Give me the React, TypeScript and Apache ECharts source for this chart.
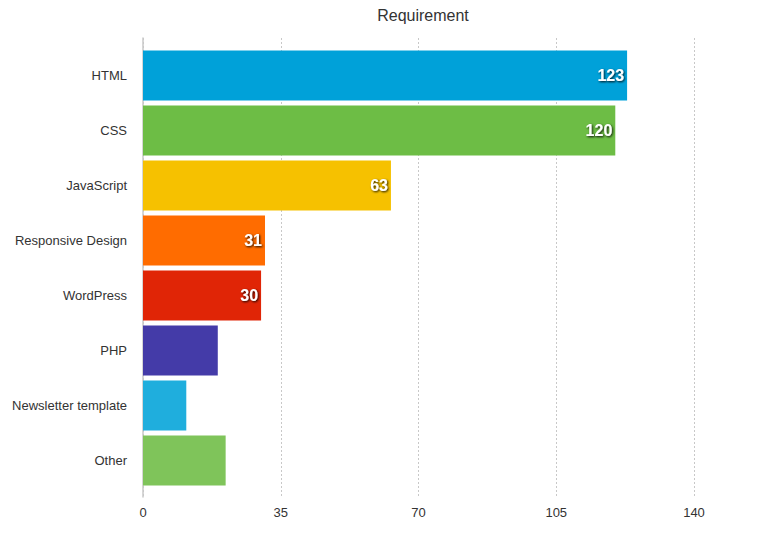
import React, { useEffect, useRef } from "react";
import * as echarts from "echarts";

const categories = [
  "HTML",
  "CSS",
  "JavaScript",
  "Responsive Design",
  "WordPress",
  "PHP",
  "Newsletter template",
  "Other",
];
const values = [123, 120, 63, 31, 30, 19, 11, 21];
const colors = [
  "#00a1d9",
  "#6dbd45",
  "#f6c100",
  "#ff6c00",
  "#e02506",
  "#443ba8",
  "#1faedd",
  "#7fc45a",
];
const showLabel = [true, true, true, true, true, false, false, false];
const xTicks = { min: 0, max: 140, interval: 35 };

const FONT = "'Liberation Sans', Arial, Helvetica, sans-serif";

export default function App() {
  const ref = useRef<HTMLDivElement>(null);
  useEffect(() => {
    if (!ref.current) return;
    const chart = echarts.init(ref.current, undefined, { renderer: "svg" });
    chart.setOption({
      animation: false,
      textStyle: { fontFamily: FONT },
      title: {
        text: "Requirement",
        left: 418,
        textAlign: "center",
        top: 2,
        textStyle: { fontSize: 16, fontWeight: "normal", color: "#333", fontFamily: FONT },
      },
      grid: [
        { left: 143, right: 79, top: 38, bottom: 39 },
        { left: 143, right: 79, top: 48, bottom: 48 },
      ],
      xAxis: [
        {
          gridIndex: 0,
          type: "value",
          min: xTicks.min,
          max: xTicks.max,
          interval: xTicks.interval,
          axisLine: { show: false },
          axisTick: { show: false },
          axisLabel: { color: "#333", fontSize: 13, margin: 9, fontFamily: FONT },
          splitLine: { show: true, lineStyle: { color: "#c8c8c8", type: [2, 2], width: 1 } },
        },
        {
          gridIndex: 1,
          type: "value",
          min: xTicks.min,
          max: xTicks.max,
          show: false,
          splitLine: { show: false },
        },
      ],
      yAxis: [
        {
          gridIndex: 0,
          type: "value",
          axisLabel: { show: false },
          axisTick: { show: false },
          splitLine: { show: false },
          axisLine: { show: true, lineStyle: { color: "#c8c8c8", width: 1.5 } },
        },
        {
          gridIndex: 1,
          type: "category",
          data: categories,
          inverse: true,
          axisLine: { show: false },
          axisTick: { show: false },
          axisLabel: { color: "#333", fontSize: 13, margin: 16, fontFamily: FONT },
        },
      ],
      series: [
        {
          type: "bar",
          xAxisIndex: 1,
          yAxisIndex: 1,
          barCategoryGap: "9.5%",
          data: values.map((v, i) => ({
            value: v,
            itemStyle: { color: colors[i] },
            label: { show: showLabel[i] },
          })),
          label: {
            position: "insideRight",
            distance: 3,
            color: "#fff",
            fontSize: 16,
            fontWeight: "bold",
            fontFamily: FONT,
            textShadowColor: "rgba(0,0,0,0.9)",
            textShadowBlur: 2,
            textShadowOffsetX: 1,
            textShadowOffsetY: 1,
          },
        },
      ],
    });
    return () => chart.dispose();
  }, []);
  return <div ref={ref} style={{ width: 773, height: 536, position: "absolute", left: 0, top: 0 }} />;
}
